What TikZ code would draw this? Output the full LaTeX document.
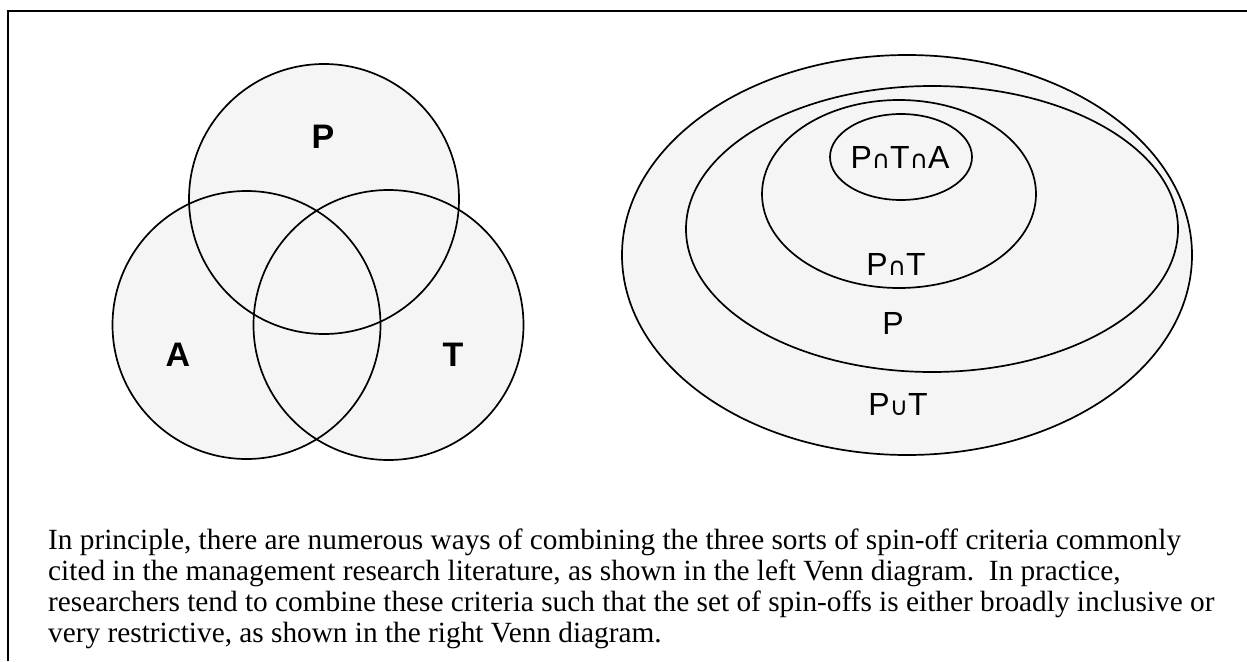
\documentclass[tikz,border=0pt]{standalone}
\usepackage{fontspec}
\setmainfont{Liberation Serif}
\newfontfamily\arialf{Liberation Sans}
\newfontfamily\symf{DejaVu Sans}
\tikzset{
  setfill/.style={fill=black!4, draw=none},
  setline/.style={draw=black, line width=1.7pt},
  biglabel/.style={font=\arialf\bfseries\fontsize{34}{34}\selectfont, inner sep=0pt},
  smalllabel/.style={font=\arialf\fontsize{32}{32}\selectfont, inner sep=0pt},
  capline/.style={anchor=base west, inner sep=0pt, font=\fontsize{29.3}{33}\selectfont},
  framel/.style={draw=black, line width=2pt}
}
\newcommand{\capsym}{{\symf\fontsize{25}{25}\selectfont\char"2229}}
\newcommand{\cupsym}{{\symf\fontsize{25}{25}\selectfont\char"222A}}
\begin{document}
\begin{tikzpicture}[x=1pt,y=-1pt]
\path[use as bounding box, fill=white] (0,0) rectangle (1247,661);
% frame (top and left edges visible)
\coordinate (fbl) at (8,661);
\coordinate (ftl) at (8,11);
\coordinate (ftr) at (1247,11);
\draw[framel] (fbl) -- (ftl) -- (ftr);

% left Venn diagram
\coordinate (cP) at (324,199);
\coordinate (cA) at (246.5,325);
\coordinate (cT) at (388.5,325);
\fill[setfill] (cP) circle[radius=135];
\fill[setfill] (cA) circle[radius=134];
\fill[setfill] (cT) circle[radius=135];
\draw[setline] (cP) circle[radius=135];
\draw[setline] (cA) circle[radius=134];
\draw[setline] (cT) circle[radius=135];
\node[biglabel] (lP) at (323,137) {P};
\node[biglabel] (lA) at (178,355) {A};
\node[biglabel] (lT) at (453,355) {T};

% right nested Venn diagram
\coordinate (e1) at (907,255);
\coordinate (e2) at (932,229);
\coordinate (e3) at (899,194);
\coordinate (e4) at (901,157);
\fill[setfill] (e1) ellipse[x radius=285, y radius=200];
\draw[setline] (e1) ellipse[x radius=285, y radius=200];
\draw[setline] (e2) ellipse[x radius=246, y radius=143];
\draw[setline] (e3) ellipse[x radius=137, y radius=94];
\draw[setline] (e4) ellipse[x radius=71, y radius=43];
\node[smalllabel] (rPTA) at (900,157) {P\capsym T\capsym A};
\node[smalllabel] (rPT) at (896,264) {P\capsym T};
\node[smalllabel] (rP) at (893,323) {P};
\node[smalllabel] (rPuT) at (898,404) {P\cupsym T};

% caption
\node[capline] (cap1) at (48,549) {In principle, there are numerous ways of combining the three sorts of spin-off criteria commonly};
\node[capline] (cap2) at (48,580) {cited in the management research literature, as shown in the left Venn diagram.\ \ In practice,};
\node[capline] (cap3) at (48,611) {researchers tend to combine these criteria such that the set of spin-offs is either broadly inclusive or};
\node[capline] (cap4) at (48,642) {very restrictive, as shown in the right Venn diagram.};
\end{tikzpicture}
\end{document}
